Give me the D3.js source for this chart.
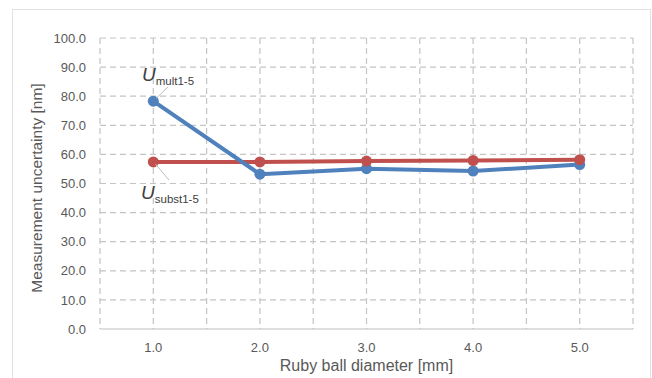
<!DOCTYPE html>
<html lang="en">
<head>
<meta charset="UTF-8">
<title>uncertainty vs ruby ball diameter</title>
<style>
  body { margin: 0; background: #fff; }
  .tick text { font-family: "Liberation Sans", Arial, sans-serif; font-size: 13px; fill: #595959; }
  .atitle { font-family: "Liberation Sans", Arial, sans-serif; font-size: 15.5px; fill: #595959; text-anchor: middle; }
  .grid line { stroke: #c4c4c4; stroke-width: 1.2; stroke-dasharray: 6,4; }
  .note { font-family: "Liberation Sans", Arial, sans-serif; fill: #404040; }
</style>
<script src="https://d3js.org/d3.v7.min.js"></script>
</head>
<body>
<script>
// data
var diameters = [1.0, 2.0, 3.0, 4.0, 5.0];
var uMult = [78.3, 53.2, 55.1, 54.3, 56.5];
var uSubst = [57.4, 57.4, 57.7, 57.9, 58.2];
var yTicks = [0, 10, 20, 30, 40, 50, 60, 70, 80, 90, 100];

const w = 652, h = 378;
const plotL = 100, plotR = 633, plotT = 38, plotB = 329;

const svg = d3.select("body").append("svg")
  .attr("width", w).attr("height", h);

// chart frame
svg.append("rect")
  .attr("x", 12.5).attr("y", 9.5)
  .attr("width", 638).attr("height", 380)
  .attr("fill", "#fff").attr("stroke", "#dfe3e8");

var x = d3.scaleBand().domain(diameters).range([plotL, plotR]).paddingInner(0).paddingOuter(0);
var y = d3.scaleLinear().domain([0, 100]).range([plotB, plotT]);
var bw = x.bandwidth();

// vertical grid: band edges and centres
var vx = [];
diameters.forEach(d => { vx.push(x(d)); vx.push(x(d) + bw / 2); });
vx.push(plotR);

var grid = svg.append("g").attr("class", "grid");
grid.selectAll(".hl").data(yTicks.filter(t => t > 0)).enter().append("line")
  .attr("x1", plotL).attr("x2", plotR)
  .attr("y1", d => y(d)).attr("y2", d => y(d));
grid.selectAll(".vl").data(vx).enter().append("line")
  .attr("x1", d => d).attr("x2", d => d)
  .attr("y1", plotT).attr("y2", plotB);

// x baseline
svg.append("line")
  .attr("x1", plotL).attr("x2", plotR)
  .attr("y1", y(0)).attr("y2", y(0))
  .attr("stroke", "#bfbfbf").attr("stroke-width", 1.2);

var yAxis = d3.axisLeft(y).tickValues(yTicks).tickSize(0).tickPadding(14).tickFormat(d3.format(".1f"));
svg.append("g").attr("transform", "translate(" + plotL + ",0)").call(yAxis)
  .call(g => g.select(".domain").remove());

var xAxis = d3.axisBottom(x).tickSize(0).tickPadding(14).tickFormat(d3.format(".1f"));
svg.append("g").attr("transform", "translate(0," + plotB + ")").call(xAxis)
  .call(g => g.select(".domain").remove());

svg.append("text").attr("class", "atitle")
  .attr("x", (plotL + plotR) / 2).attr("y", 371)
  .style("font-size", "16px")
  .text("Ruby ball diameter [mm]");
svg.append("text").attr("class", "atitle")
  .attr("transform", "translate(42,188) rotate(-90)")
  .text("Measurement uncertainty [nm]");

var cx = d => x(d) + bw / 2;
var series = [
  { vals: uSubst, color: "#c0504d" },
  { vals: uMult, color: "#4f81bd" }
];

var line = d3.line().x((d, i) => cx(diameters[i])).y(d => y(d));

series.forEach(s => {
  svg.append("path").datum(s.vals)
    .attr("d", line)
    .attr("fill", "none")
    .attr("stroke", s.color)
    .attr("stroke-width", 4)
    .attr("stroke-linejoin", "round");
});
series.slice().reverse().forEach(s => {
  svg.selectAll(null).data(s.vals).enter().append("circle")
    .attr("cx", (d, i) => cx(diameters[i]))
    .attr("cy", d => y(d))
    .attr("r", 5.5)
    .attr("fill", s.color);
});

// leader lines and labels
svg.append("line")
  .attr("x1", cx(1.0) + 3).attr("y1", y(uMult[0]) - 3)
  .attr("x2", 168).attr("y2", 87)
  .attr("stroke", "#bfbfbf").attr("stroke-width", 1);
svg.append("line")
  .attr("x1", cx(1.0) + 2).attr("y1", y(uSubst[0]) + 2)
  .attr("x2", 169).attr("y2", 180)
  .attr("stroke", "#bfbfbf").attr("stroke-width", 1);

function note(px, py, sub) {
  var t = svg.append("text").attr("class", "note").attr("x", px).attr("y", py);
  t.append("tspan").attr("font-size", 19).attr("font-style", "italic").text("U");
  t.append("tspan").attr("font-size", 11.5).attr("dy", 4).text(sub);
}
note(142, 81, "mult1-5");
note(141, 199, "subst1-5");
</script>
</body>
</html>
